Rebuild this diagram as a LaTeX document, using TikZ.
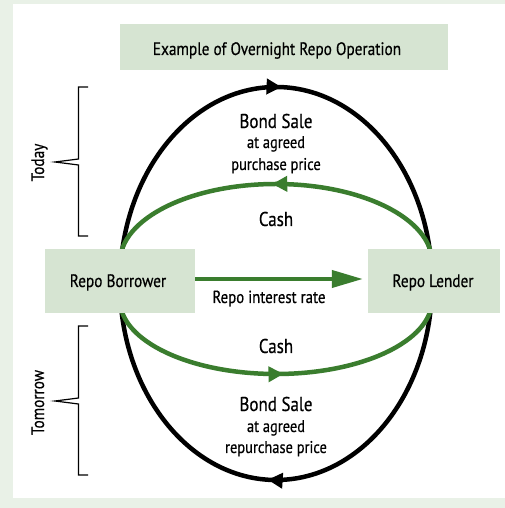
\documentclass[tikz,border=0pt]{standalone}
\usepackage{fontspec}
\setmainfont{PT Sans}[FakeStretch=0.85,FakeBold=0.5]
\usetikzlibrary{arrows.meta,decorations.markings}
\definecolor{bgstrip}{RGB}{233,241,231}
\definecolor{boxfill}{RGB}{214,228,210}
\definecolor{flowgreen}{RGB}{58,125,46}
\tikzset{
  box/.style={fill=boxfill, draw=none, inner sep=0pt},
  lbl/.style={inner sep=0pt, anchor=base, text=black},
  bigtxt/.style={lbl, font=\fontsize{20}{24}\selectfont},
  midtxt/.style={lbl, font=\fontsize{17}{20}\selectfont},
  ratetxt/.style={lbl, font=\fontsize{17.5}{20}\selectfont},
  boxtxt/.style={lbl, font=\fontsize{18}{21}\selectfont},
  bondline/.style={draw=black, line width=4.5pt},
  cashline/.style={draw=flowgreen, line width=4.5pt},
  midarrow/.style={postaction={decorate}, decoration={markings,
      mark=at position #1 with {\arrow{Triangle[length=15pt,width=15pt]}}}},
  bracket/.style={draw=black, line width=1.2pt}
}
\begin{document}
\begin{tikzpicture}[x=1pt,y=1pt]
\useasboundingbox (0,0) rectangle (505,508);
\fill[bgstrip] (0,0) rectangle (505,508);
\fill[white] (13,10) rectangle (505,504);

% anchor coordinates for the curves
\coordinate (eL) at (120,224.5);
\coordinate (eR) at (432,224.5);
\coordinate (gUR) at (432,246);
\coordinate (gLL) at (120,208);

% black bond-sale ellipse
\draw[bondline, midarrow=0.51] (eL) arc[start angle=180, end angle=0, x radius=156, y radius=196.5];
\draw[bondline, midarrow=0.515] (eR) arc[start angle=0, end angle=-180, x radius=156, y radius=196.5];

% green cash arcs
\draw[cashline, midarrow=0.51] (gUR) arc[start angle=0, end angle=180, x radius=156, y radius=78];
\draw[cashline, midarrow=0.52] (gLL) arc[start angle=180, end angle=360, x radius=156, y radius=74];

% boxes
\node[box, minimum width=328pt, minimum height=46pt] (tbox) at (284,461) {};
\node[box, minimum width=150pt, minimum height=64pt] (b) at (120,227) {};
\node[box, minimum width=132pt, minimum height=64pt] (l) at (434,227) {};

% box texts
\node[boxtxt] (title) at (277,453) {Example of Overnight Repo Operation};
\node[boxtxt] (bt) at (118,221) {Repo Borrower};
\node[boxtxt] (lt) at (433,221) {Repo Lender};

% interest arrow
\draw[draw=flowgreen, line width=4pt, -{Triangle[length=31pt,width=17pt]}]
  ([yshift=2pt]b.east) -- ([xshift=-5pt,yshift=2pt]l.west);
\node[ratetxt] (rate) at (269,205) {Repo interest rate};

% labels
\node[bigtxt] (bs1) at (276,380) {Bond Sale};
\node[midtxt] (ag1) at (276,360) {at agreed};
\node[midtxt] (pp1) at (276,338) {purchase price};
\node[bigtxt] (c1) at (276,282) {Cash};
\node[bigtxt] (c2) at (276,155) {Cash};
\node[bigtxt] (bs2) at (276,97) {Bond Sale};
\node[midtxt] (ag2) at (276,76) {at agreed};
\node[midtxt] (rp2) at (276,55) {repurchase price};

% brackets
\draw[bracket] (88,421) -- (78.5,421) -- (78.5,349) -- (55,346) -- (78.5,343) -- (78.5,272) -- (88,272);
\draw[bracket] (88,182) -- (78.5,182) -- (78.5,110) -- (55,107) -- (78.5,104) -- (78.5,33) -- (88,33);
\node[boxtxt, rotate=90] (today) at (44,345.5) {Today};
\node[boxtxt, rotate=90] (tomorrow) at (44,105.5) {Tomorrow};
\end{tikzpicture}
\end{document}
